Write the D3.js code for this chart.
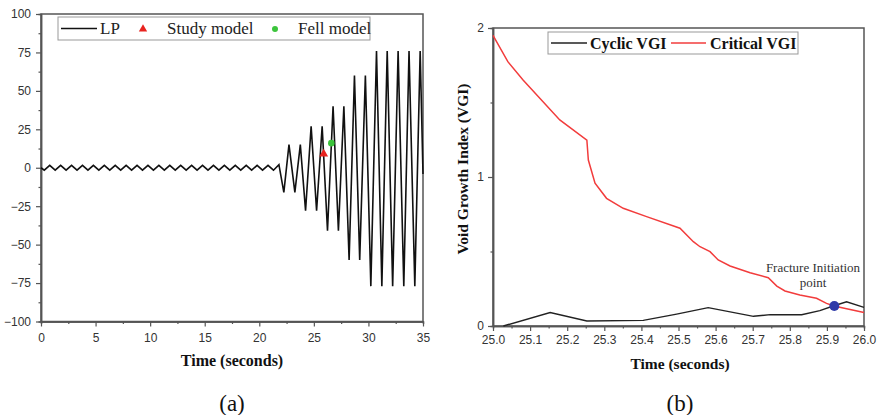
<!DOCTYPE html>
<html>
<head>
<meta charset="utf-8">
<script src="https://cdn.jsdelivr.net/npm/d3@7"></script>
<style>
body { margin: 0; background: #fff; }
</style>
</head>
<body>
<script>
let w = 877;
let h = 415;

// (a) LP time history
let lpTime = [0, 0.3, 0.8, 1.3, 1.8, 2.3, 2.8, 3.3, 3.8, 4.3, 4.8, 5.3, 5.8, 6.3, 6.8,
              7.3, 7.8, 8.3, 8.8, 9.3, 9.8, 10.3, 10.8, 11.3, 11.8, 12.3, 12.8, 13.3, 13.8,
              14.3, 14.8, 15.3, 15.8, 16.3, 16.8, 17.3, 17.8, 18.3, 18.8, 19.3, 19.8, 20.3,
              20.8, 21.3, 21.8, 22.25, 22.72, 23.26, 23.76, 24.24, 24.75, 25.25, 25.76,
              26.25, 26.76, 27.25, 27.75, 28.23, 28.72, 29.2, 29.72, 30.22, 30.74, 31.23,
              31.72, 32.22, 32.72, 33.24, 33.72, 34.25, 34.74, 35];
let lpValue = [0, -1.6, 1.6, -1.6, 1.6, -1.6, 1.6, -1.6, 1.6, -1.6, 1.6, -1.6, 1.6, -1.6, 1.6,
               -1.6, 1.6, -1.6, 1.6, -1.6, 1.6, -1.6, 1.6, -1.6, 1.6, -1.6, 1.6, -1.6, 1.6,
               -1.6, 1.6, -1.6, 1.6, -1.6, 1.6, -1.6, 1.6, -1.6, 1.6, -1.6, 1.6, -1.6,
               1.6, -1.6, 2, -16, 15, -16, 15, -28, 27, -28, 27,
               -41, 40, -41, 40, -60, 60, -60, 60, -77, 76, -77,
               76, -77, 76, -77, 76, -77, 76, -4];
let studyPoint = [25.9, 9];
let fellPoint = [26.6, 16];
let aTicksX = [0, 5, 10, 15, 20, 25, 30, 35];
let aTicksY = [-100, -75, -50, -25, 0, 25, 50, 75, 100];

// (b) void growth index
let cyclicTime = [25.028, 25.154, 25.253, 25.405, 25.495, 25.58, 25.702, 25.747, 25.832,
                  25.881, 25.917, 25.953, 26.0];
let cyclicValue = [0, 0.09, 0.034, 0.038, 0.08, 0.123, 0.065, 0.076, 0.076,
                   0.103, 0.134, 0.163, 0.125];
let criticalTime = [25.0, 25.04, 25.081, 25.18, 25.253, 25.257, 25.275, 25.306, 25.351,
                    25.414, 25.504, 25.54, 25.558, 25.585, 25.607, 25.639, 25.693, 25.742,
                    25.765, 25.787, 25.827, 25.872, 25.899, 25.919, 26.0];
let criticalValue = [1.95, 1.774, 1.651, 1.383, 1.248, 1.114, 0.958, 0.857, 0.79,
                     0.734, 0.656, 0.566, 0.532, 0.499, 0.443, 0.403, 0.358, 0.324,
                     0.268, 0.235, 0.208, 0.186, 0.152, 0.134, 0.09];
let fracturePoint = [25.92, 0.134];
let bTicksX = [25.0, 25.1, 25.2, 25.3, 25.4, 25.5, 25.6, 25.7, 25.8, 25.9, 26.0];
let bTicksY = [0, 1, 2];

let serif = "'Liberation Serif', 'Times New Roman', serif";
let sans = "'Liberation Sans', Arial, sans-serif";
let axisColor = "#555";

let svg = d3.select("body")
            .append("svg")
            .attr("width", w)
            .attr("height", h);

function styleAxis(g) {
    g.select(".domain").attr("stroke", axisColor).attr("stroke-width", 1.5);
    g.selectAll(".tick line").attr("stroke", axisColor).attr("stroke-width", 1.2);
    g.selectAll(".tick text")
     .attr("fill", "#333")
     .attr("font-family", sans)
     .attr("font-size", "12px");
}

function minorTicks(major) {
    let out = [];
    for (let i = 0; i < major.length - 1; i++) {
        out.push((major[i] + major[i + 1]) / 2);
    }
    return out;
}

// ---------- (a) ----------
let xA = d3.scaleLinear().domain([0, 35]).range([41, 423]);
let yA = d3.scaleLinear().domain([-100, 100]).range([321.5, 14]);

svg.append("rect")
   .attr("x", xA(0)).attr("y", yA(100))
   .attr("width", xA(35) - xA(0)).attr("height", yA(-100) - yA(100))
   .attr("fill", "none").attr("stroke", axisColor).attr("stroke-width", 1.5);

svg.append("g")
   .attr("transform", "translate(0," + yA(-100) + ")")
   .call(d3.axisBottom(xA).tickValues(minorTicks(aTicksX)).tickSize(2.5).tickFormat(""))
   .call(styleAxis);
svg.append("g")
   .attr("transform", "translate(0," + yA(-100) + ")")
   .call(d3.axisBottom(xA).tickValues(aTicksX).tickSize(5).tickSizeOuter(0).tickPadding(7))
   .call(styleAxis);
svg.append("g")
   .attr("transform", "translate(" + xA(0) + ",0)")
   .call(d3.axisLeft(yA).tickValues(minorTicks(aTicksY)).tickSize(2.5).tickFormat(""))
   .call(styleAxis);
svg.append("g")
   .attr("transform", "translate(" + xA(0) + ",0)")
   .call(d3.axisLeft(yA).tickValues(aTicksY).tickSize(5).tickSizeOuter(0).tickPadding(5))
   .call(styleAxis);

let lpLine = d3.line()
               .x(function(d, i) { return xA(lpTime[i]); })
               .y(function(d) { return yA(d); });
svg.append("path")
   .datum(lpValue)
   .attr("d", lpLine)
   .attr("fill", "none")
   .attr("stroke", "#111")
   .attr("stroke-width", 1.6)
   .attr("stroke-linejoin", "miter");

svg.append("path")
   .attr("d", d3.symbol().type(d3.symbolTriangle).size(34)())
   .attr("transform", "translate(" + xA(studyPoint[0]) + "," + yA(studyPoint[1]) + ")")
   .attr("fill", "#e8231f");
svg.append("circle")
   .attr("cx", xA(fellPoint[0])).attr("cy", yA(fellPoint[1]))
   .attr("r", 3.3)
   .attr("fill", "#3cc43c");

// legend (a)
let legA = svg.append("g");
legA.append("rect")
    .attr("x", 58).attr("y", 17).attr("width", 312).attr("height", 23)
    .attr("fill", "#fff").attr("stroke", "#999").attr("stroke-width", 1);
legA.append("line")
    .attr("x1", 61).attr("x2", 97).attr("y1", 28.5).attr("y2", 28.5)
    .attr("stroke", "#111").attr("stroke-width", 1.5);
legA.append("text").attr("x", 100).attr("y", 34).text("LP");
legA.append("path")
    .attr("d", d3.symbol().type(d3.symbolTriangle).size(30)())
    .attr("transform", "translate(143,29)")
    .attr("fill", "#e8231f");
legA.append("text").attr("x", 167).attr("y", 34).text("Study model");
legA.append("circle").attr("cx", 275).attr("cy", 29).attr("r", 3).attr("fill", "#3cc43c");
legA.append("text").attr("x", 298).attr("y", 34).text("Fell model");
legA.selectAll("text")
    .attr("font-family", serif)
    .attr("font-size", "17px")
    .attr("fill", "#222");

svg.append("text")
   .attr("x", 232).attr("y", 366)
   .attr("text-anchor", "middle")
   .attr("font-family", serif).attr("font-weight", "bold").attr("font-size", "16px")
   .attr("fill", "#111")
   .text("Time (seconds)");
svg.append("text")
   .attr("x", 232).attr("y", 411)
   .attr("text-anchor", "middle")
   .attr("font-family", serif).attr("font-size", "23px")
   .attr("fill", "#111")
   .text("(a)");

// ---------- (b) ----------
let xB = d3.scaleLinear().domain([25, 26]).range([493, 864]);
let yB = d3.scaleLinear().domain([0, 2]).range([326, 28]);

svg.append("rect")
   .attr("x", xB(25)).attr("y", yB(2))
   .attr("width", xB(26) - xB(25)).attr("height", yB(0) - yB(2))
   .attr("fill", "none").attr("stroke", axisColor).attr("stroke-width", 1.5);

svg.append("g")
   .attr("transform", "translate(0," + yB(0) + ")")
   .call(d3.axisBottom(xB).tickValues(minorTicks(bTicksX)).tickSize(2.5).tickFormat(""))
   .call(styleAxis);
svg.append("g")
   .attr("transform", "translate(0," + yB(0) + ")")
   .call(d3.axisBottom(xB).tickValues(bTicksX).tickSize(5).tickSizeOuter(0).tickPadding(4)
            .tickFormat(d3.format(".1f")))
   .call(styleAxis);
svg.append("g")
   .attr("transform", "translate(" + xB(25) + ",0)")
   .call(d3.axisLeft(yB).tickValues(minorTicks(bTicksY)).tickSize(2.5).tickFormat(""))
   .call(styleAxis);
svg.append("g")
   .attr("transform", "translate(" + xB(25) + ",0)")
   .call(d3.axisLeft(yB).tickValues(bTicksY).tickSize(5).tickSizeOuter(0).tickPadding(4)
            .tickFormat(d3.format("d")))
   .call(styleAxis);

let criticalLine = d3.line()
                     .x(function(d, i) { return xB(criticalTime[i]); })
                     .y(function(d) { return yB(d); });
let cyclicLine = d3.line()
                   .x(function(d, i) { return xB(cyclicTime[i]); })
                   .y(function(d) { return yB(d); });
svg.append("path")
   .datum(criticalValue)
   .attr("d", criticalLine)
   .attr("fill", "none")
   .attr("stroke", "#f23c3c")
   .attr("stroke-width", 1.5);
svg.append("path")
   .datum(cyclicValue)
   .attr("d", cyclicLine)
   .attr("fill", "none")
   .attr("stroke", "#222")
   .attr("stroke-width", 1.4);

svg.append("circle")
   .attr("cx", xB(fracturePoint[0])).attr("cy", yB(fracturePoint[1]))
   .attr("r", 5)
   .attr("fill", "#2f3aa8");
svg.append("text")
   .attr("x", 813).attr("y", 272)
   .attr("text-anchor", "middle")
   .attr("font-family", serif).attr("font-size", "13px").attr("fill", "#333")
   .text("Fracture Initiation");
svg.append("text")
   .attr("x", 813).attr("y", 287)
   .attr("text-anchor", "middle")
   .attr("font-family", serif).attr("font-size", "13px").attr("fill", "#333")
   .text("point");

// legend (b)
let legB = svg.append("g");
legB.append("rect")
    .attr("x", 548).attr("y", 32).attr("width", 250).attr("height", 22)
    .attr("fill", "#fff").attr("stroke", "#999").attr("stroke-width", 1);
legB.append("line")
    .attr("x1", 551).attr("x2", 587).attr("y1", 43).attr("y2", 43)
    .attr("stroke", "#222").attr("stroke-width", 1.5);
legB.append("text").attr("x", 590).attr("y", 49).text("Cyclic VGI");
legB.append("line")
    .attr("x1", 671).attr("x2", 706).attr("y1", 43).attr("y2", 43)
    .attr("stroke", "#f23c3c").attr("stroke-width", 1.5);
legB.append("text").attr("x", 710).attr("y", 49).text("Critical VGI");
legB.selectAll("text")
    .attr("font-family", serif)
    .attr("font-weight", "bold")
    .attr("font-size", "16px")
    .attr("fill", "#111");

svg.append("text")
   .attr("transform", "translate(468," + ((yB(0) + yB(2)) / 2 - 8) + ") rotate(-90)")
   .attr("text-anchor", "middle")
   .attr("font-family", serif).attr("font-weight", "bold").attr("font-size", "15.5px")
   .attr("fill", "#111")
   .text("Void Growth Index (VGI)");

svg.append("text")
   .attr("x", 680).attr("y", 369)
   .attr("text-anchor", "middle")
   .attr("font-family", serif).attr("font-weight", "bold").attr("font-size", "15.5px")
   .attr("fill", "#111")
   .text("Time (seconds)");
svg.append("text")
   .attr("x", 680).attr("y", 411)
   .attr("text-anchor", "middle")
   .attr("font-family", serif).attr("font-size", "23px")
   .attr("fill", "#111")
   .text("(b)");
</script>
</body>
</html>
